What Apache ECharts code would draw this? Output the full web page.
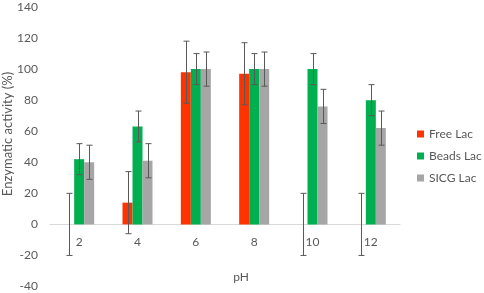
<!DOCTYPE html>
<html><head><meta charset="utf-8">
<script src="https://cdn.jsdelivr.net/npm/echarts@6/dist/echarts.min.js"></script>
<style>html,body{margin:0;padding:0;background:#fff}#c{width:484px;height:293px}</style>
</head><body><div id="c"></div>
<script>
const categories = ['2','4','6','8','10','12'];
const freeLac = [0, 14, 98, 97, 0, 0];
const freeErr = [20, 20, 20, 20, 20, 20];
const beadsLac = [42, 63, 100, 100, 100, 80];
const beadsErr = [10, 10, 10, 10, 10, 10];
const sicgLac = [40, 41, 100, 100, 76, 62];
const sicgErr = [11, 11, 11, 11, 11, 11];
const yTicks = {min: -40, max: 140, interval: 20};

const FONT = 'Lato';
const BW = 10;
const colors = ['#ff3300', '#00b050', '#a6a6a6'];

const TOP = 7, BOTTOM = 6.5, H = 293;
const zeroY = TOP + (H - TOP - BOTTOM) * (yTicks.max - 0) / (yTicks.max - yTicks.min);

function errSeries(vals, errs, offset) {
  return {
    type: 'custom',
    silent: true,
    z: 10,
    data: vals.map((v, i) => [i, v - errs[i], v + errs[i]]),
    renderItem: function (params, api) {
      const lo = api.coord([api.value(0), api.value(1)]);
      const hi = api.coord([api.value(0), api.value(2)]);
      const x = Math.round(lo[0] + offset) + 0.5;
      const cap = 3;
      const st = {stroke: '#595959', lineWidth: 1};
      return {
        type: 'group',
        children: [
          {type: 'line', shape: {x1: x, y1: hi[1], x2: x, y2: lo[1]}, style: st},
          {type: 'line', shape: {x1: x - cap, y1: hi[1], x2: x + cap, y2: hi[1]}, style: st},
          {type: 'line', shape: {x1: x - cap, y1: lo[1], x2: x + cap, y2: lo[1]}, style: st}
        ]
      };
    }
  };
}

const chart = echarts.init(document.getElementById('c'), null, {renderer: 'canvas'});
chart.setOption({
  animation: false,
  textStyle: {fontFamily: FONT},
  grid: [
    {left: 50, right: 84, top: TOP, bottom: BOTTOM, containLabel: false, outerBoundsMode: 'none'},
    {left: 50, right: 84, top: TOP, bottom: H - zeroY, containLabel: false, outerBoundsMode: 'none'}
  ],
  legend: {
    orient: 'vertical',
    left: 417,
    top: 128,
    padding: 0,
    itemWidth: 7,
    itemHeight: 7,
    itemGap: 10,
    icon: 'rect',
    textStyle: {color: '#595959', fontSize: 12, fontFamily: FONT},
    data: ['Free Lac', 'Beads Lac', 'SICG Lac']
  },
  xAxis: [{
    type: 'category',
    gridIndex: 0,
    data: categories,
    axisLine: {show: false},
    axisTick: {show: false},
    axisLabel: {show: false}
  }, {
    type: 'category',
    gridIndex: 1,
    position: 'bottom',
    data: categories,
    axisLine: {show: true, onZero: false, lineStyle: {color: '#d9d9d9', width: 1}},
    axisTick: {show: false},
    axisLabel: {color: '#595959', fontSize: 12, fontFamily: FONT, margin: 12},
    z: 0
  }],
  yAxis: [{
    type: 'value',
    gridIndex: 0,
    min: yTicks.min, max: yTicks.max, interval: yTicks.interval,
    splitLine: {show: false},
    axisLine: {show: false},
    axisTick: {show: false},
    axisLabel: {color: '#595959', fontSize: 12, fontFamily: FONT, margin: 12}
  }, {
    type: 'value',
    gridIndex: 1,
    show: false
  }],
  graphic: [{
    type: 'text', x: 241, y: 277,
    style: {text: 'pH', fill: '#595959', font: '12px ' + FONT, align: 'center', verticalAlign: 'middle'}
  }, {
    type: 'text', x: 8, y: 134, rotation: Math.PI / 2,
    style: {text: 'Enzymatic activity (%)', fill: '#595959', font: '13px ' + FONT, align: 'center', verticalAlign: 'middle'}
  }],
  series: [
    {name: 'Free Lac', type: 'bar', data: freeLac, barWidth: BW, barGap: '0%', itemStyle: {color: colors[0]}},
    {name: 'Beads Lac', type: 'bar', data: beadsLac, barWidth: BW, barGap: '0%', itemStyle: {color: colors[1]}},
    {name: 'SICG Lac', type: 'bar', data: sicgLac, barWidth: BW, barGap: '0%', itemStyle: {color: colors[2]}},
    errSeries(freeLac, freeErr, -BW),
    errSeries(beadsLac, beadsErr, 0),
    errSeries(sicgLac, sicgErr, BW)
  ]
});
</script></body></html>
